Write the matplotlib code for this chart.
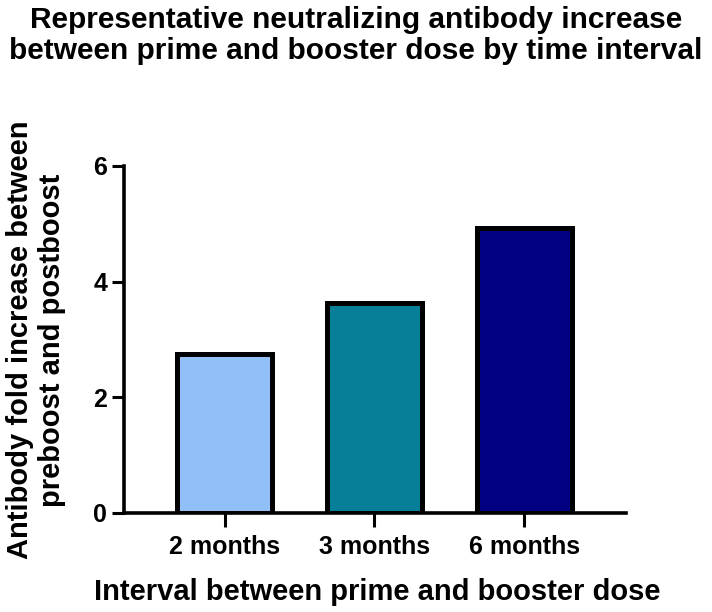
import matplotlib
matplotlib.use("Agg")
import matplotlib.pyplot as plt

# values
intervals = ["2 months", "3 months", "6 months"]
fold_increase = [2.75, 3.63, 4.93]
bar_colors = ["#91BFF8", "#087F98", "#000080"]
y_ticks = [0, 2, 4, 6]

plt.rcParams.update(
    {
        "font.family": ["Liberation Sans", "DejaVu Sans"],
        "font.weight": "bold",
        "axes.linewidth": 2.6,
    }
)

fig = plt.figure(figsize=(7.12, 6.12), dpi=100)
ax = fig.add_axes([0.1742, 0.1618, 0.7050, 0.5670])

x = range(len(intervals))
ax.bar(x, fold_increase, width=0.63, color=bar_colors, edgecolor="black",
       linewidth=3.6, zorder=2)

ax.set_xlim(-0.67, 2.677)
ax.set_ylim(0, 6)
ax.set_yticks(y_ticks)
ax.set_xticks(list(x))
ax.set_xticklabels(intervals)

ax.spines["top"].set_visible(False)
ax.spines["right"].set_visible(False)
ax.tick_params(axis="x", length=10, width=2.2, pad=6, labelsize=18)
ax.tick_params(axis="y", length=9, width=2.2, pad=3, labelsize=18)
for lbl in ax.get_xticklabels() + ax.get_yticklabels():
    lbl.set_fontweight("bold")

fig.text(
    0.5, 1 - 59 / 612,
    "Representative neutralizing antibody increase\n"
    "between prime and booster dose by time interval",
    ha="center", va="baseline", fontsize=21.5, fontweight="bold",
    linespacing=1.12, multialignment="center",
)
fig.text(
    377 / 712, 1 - 600 / 612,
    "Interval between prime and booster dose",
    ha="center", va="baseline", fontsize=21, fontweight="bold",
)
fig.text(
    36 / 712, 1 - 340 / 612,
    "Antibody fold increase between\npreboost and postboost",
    ha="center", va="center", rotation=90, fontsize=21, fontweight="bold",
    linespacing=1.18, multialignment="center",
)

fig.savefig("out.png", dpi=100)
